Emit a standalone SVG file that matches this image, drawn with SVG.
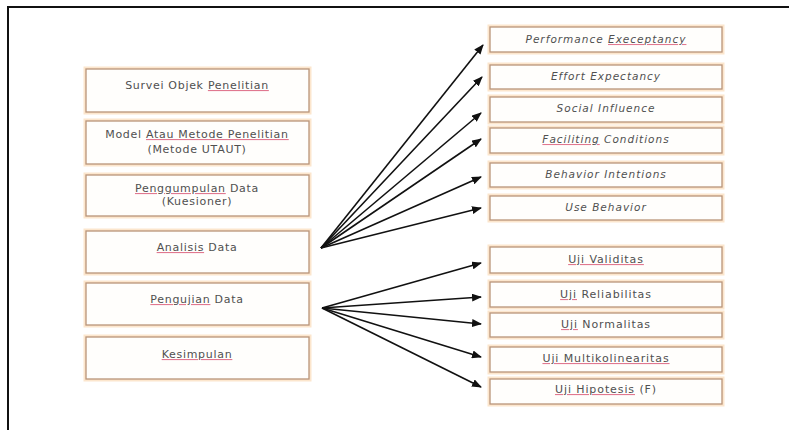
<svg xmlns="http://www.w3.org/2000/svg" width="789" height="430" viewBox="0 0 789 430">
<defs>
<marker id="ah" markerWidth="10" markerHeight="8" refX="9" refY="4" orient="auto" markerUnits="userSpaceOnUse">
<path d="M0,0 L10,4 L0,8 Z" fill="#111"/>
</marker>
<style>
.glow{fill:none;stroke:#fbdcb8;stroke-width:5;opacity:0.7}
.box{fill:#fffefc;stroke:#b99479;stroke-width:1.3}
.t{font-family:"DejaVu Sans",sans-serif;font-size:11px;fill:#505050;text-anchor:middle;letter-spacing:0.7px}
.tr{font-family:"DejaVu Sans",sans-serif;font-size:11px;fill:#505050;text-anchor:middle;letter-spacing:0.9px}
.ti{font-family:"DejaVu Sans",sans-serif;font-size:10.5px;font-style:italic;fill:#505050;text-anchor:middle;letter-spacing:1px}
.u{fill:#e07890;text-decoration:underline}
.g{fill:#505050}
.c{stroke:#111;stroke-width:1.6;fill:none;marker-end:url(#ah)}
</style>
</defs>
<rect width="789" height="430" fill="#fff"/>
<path d="M8,430 V7 H789" fill="none" stroke="#111" stroke-width="2"/>

<g id="n1"><rect class="glow" x="86" y="69" width="223" height="43"/><rect class="box" x="86" y="69" width="223" height="43"/><text class="t" x="197" y="89">Survei Objek <tspan class="u"><tspan class="g">Penelitian</tspan></tspan></text></g>
<g id="n2"><rect class="glow" x="86" y="121" width="223" height="43"/><rect class="box" x="86" y="121" width="223" height="43"/><text class="t" x="197" y="138">Model <tspan class="u"><tspan class="g">Atau Metode Penelitian</tspan></tspan></text><text class="t" x="197" y="153">(Metode UTAUT)</text></g>
<g id="n3"><rect class="glow" x="86" y="175" width="223" height="41"/><rect class="box" x="86" y="175" width="223" height="41"/><text class="t" x="197" y="192"><tspan class="u"><tspan class="g">Penggumpulan</tspan></tspan> Data</text><text class="t" x="197" y="205">(Kuesioner)</text></g>
<g id="n4"><rect class="glow" x="86" y="231" width="223" height="42"/><rect class="box" x="86" y="231" width="223" height="42"/><text class="t" x="197" y="251"><tspan class="u"><tspan class="g">Analisis</tspan></tspan> Data</text></g>
<g id="n5"><rect class="glow" x="86" y="283" width="223" height="42"/><rect class="box" x="86" y="283" width="223" height="42"/><text class="t" x="197" y="303"><tspan class="u"><tspan class="g">Pengujian</tspan></tspan> Data</text></g>
<g id="n6"><rect class="glow" x="86" y="337" width="223" height="42"/><rect class="box" x="86" y="337" width="223" height="42"/><text class="t" x="197" y="358"><tspan class="u"><tspan class="g">Kesimpulan</tspan></tspan></text></g>

<g id="r1"><rect class="glow" x="490" y="27" width="232" height="25"/><rect class="box" x="490" y="27" width="232" height="25"/><text class="ti" x="606" y="43">Performance <tspan class="u"><tspan class="g">Execeptancy</tspan></tspan></text></g>
<g id="r2"><rect class="glow" x="490" y="65" width="232" height="24"/><rect class="box" x="490" y="65" width="232" height="24"/><text class="ti" x="606" y="80">Effort Expectancy</text></g>
<g id="r3"><rect class="glow" x="490" y="97" width="232" height="25"/><rect class="box" x="490" y="97" width="232" height="25"/><text class="ti" x="606" y="112">Social Influence</text></g>
<g id="r4"><rect class="glow" x="490" y="128" width="232" height="25"/><rect class="box" x="490" y="128" width="232" height="25"/><text class="ti" x="606" y="143"><tspan class="u"><tspan class="g">Faciliting</tspan></tspan> Conditions</text></g>
<g id="r5"><rect class="glow" x="490" y="163" width="232" height="24"/><rect class="box" x="490" y="163" width="232" height="24"/><text class="ti" x="606" y="178">Behavior Intentions</text></g>
<g id="r6"><rect class="glow" x="490" y="196" width="232" height="24"/><rect class="box" x="490" y="196" width="232" height="24"/><text class="ti" x="606" y="211">Use Behavior</text></g>

<g id="r7"><rect class="glow" x="490" y="247" width="232" height="26"/><rect class="box" x="490" y="247" width="232" height="26"/><text class="tr" x="606" y="263"><tspan class="u"><tspan class="g">Uji Validitas</tspan></tspan></text></g>
<g id="r8"><rect class="glow" x="490" y="282" width="232" height="25"/><rect class="box" x="490" y="282" width="232" height="25"/><text class="tr" x="606" y="298"><tspan class="u"><tspan class="g">Uji</tspan></tspan> Reliabilitas</text></g>
<g id="r9"><rect class="glow" x="490" y="313" width="232" height="24"/><rect class="box" x="490" y="313" width="232" height="24"/><text class="tr" x="606" y="328"><tspan class="u"><tspan class="g">Uji</tspan></tspan> Normalitas</text></g>
<g id="r10"><rect class="glow" x="490" y="347" width="232" height="25"/><rect class="box" x="490" y="347" width="232" height="25"/><text class="tr" x="606" y="362"><tspan class="u"><tspan class="g">Uji Multikolinearitas</tspan></tspan></text></g>
<g id="r11"><rect class="glow" x="490" y="379" width="232" height="25"/><rect class="box" x="490" y="379" width="232" height="25"/><text class="tr" x="606" y="393"><tspan class="u"><tspan class="g">Uji Hipotesis</tspan></tspan> (F)</text></g>

<g id="connectors">
<line class="c" x1="321" y1="248" x2="483" y2="45"/>
<line class="c" x1="321" y1="248" x2="482" y2="77"/>
<line class="c" x1="321" y1="248" x2="481" y2="113"/>
<line class="c" x1="321" y1="248" x2="481" y2="139"/>
<line class="c" x1="321" y1="248" x2="481" y2="177"/>
<line class="c" x1="321" y1="248" x2="481" y2="208"/>
<line class="c" x1="322" y1="308" x2="481" y2="263"/>
<line class="c" x1="322" y1="308" x2="481" y2="297"/>
<line class="c" x1="322" y1="308" x2="481" y2="324"/>
<line class="c" x1="322" y1="308" x2="481" y2="357"/>
<line class="c" x1="322" y1="308" x2="481" y2="387"/>
</g>
</svg>
